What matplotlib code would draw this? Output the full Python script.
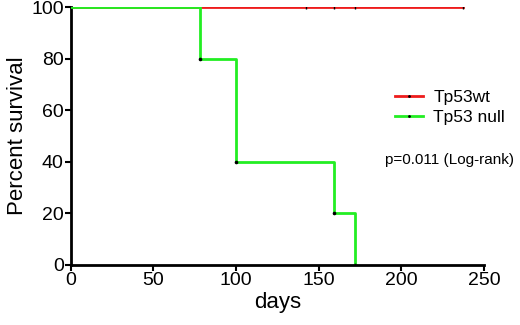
import numpy as np
import matplotlib
matplotlib.use('Agg')
import matplotlib.pyplot as plt

plt.rcParams['font.family'] = ['Liberation Sans', 'DejaVu Sans']

# Kaplan-Meier step data (days, percent survival)
wt_days = [0, 237]
wt_surv = [100, 100]
wt_censor_days = [142, 159, 172, 237]

null_days = [0, 78, 100, 159, 172]
null_surv = [100, 80, 40, 20, 0]

x_ticks = [0, 50, 100, 150, 200, 250]
y_ticks = [0, 20, 40, 60, 80, 100]

fig = plt.figure(figsize=(5.2, 3.25), dpi=100)
ax = fig.add_axes([0.136, 0.185, 0.795, 0.793])

red = '#ee1c1c'
green = '#22ee22'

ax.step(wt_days, wt_surv, where='post', color=red, lw=2, zorder=2)
ax.plot(wt_censor_days, [100] * len(wt_censor_days), ls='none', marker='|',
        color='black', ms=3, mew=1, zorder=4)

ax.step(null_days, null_surv, where='post', color=green, lw=2, zorder=3)
ax.plot(null_days[1:], null_surv[1:], ls='none', marker='o', color='black',
        ms=1.6, zorder=4)

ax.set_xlim(0, 250)
ax.set_ylim(0, 100)
ax.set_xticks(x_ticks)
ax.set_yticks(y_ticks)
ax.tick_params(direction='out', length=4, width=1.5, labelsize=14, pad=1)
for s in ['top', 'right']:
    ax.spines[s].set_visible(False)
for s in ['left', 'bottom']:
    ax.spines[s].set_linewidth(2)
ax.set_xlabel('days', fontsize=16, labelpad=2)
ax.set_ylabel('Percent survival', fontsize=16, labelpad=2)

# legend
h1, = ax.plot([], [], color=red, lw=2, marker='.', mfc='black', mec='black', ms=2)
h2, = ax.plot([], [], color=green, lw=2, marker='.', mfc='black', mec='black', ms=2)
leg = ax.legend([h1, h2], ['Tp53wt', 'Tp53 null'], loc='center left',
                bbox_to_anchor=(0.785, 0.61), frameon=False, fontsize=12.5,
                handlelength=1.6, handletextpad=0.6, labelspacing=0.25,
                borderpad=0, borderaxespad=0)
ax.text(0.76, 0.405, 'p=0.011 (Log-rank)', transform=ax.transAxes,
        fontsize=11, ha='left', va='center')

fig.savefig('out.png', dpi=100)
